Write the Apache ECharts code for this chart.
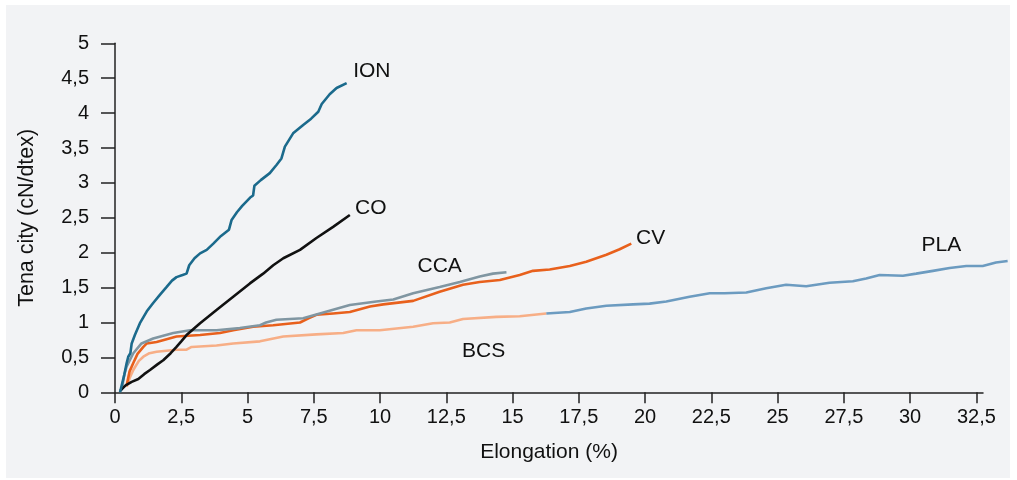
<!DOCTYPE html>
<html>
<head>
<meta charset="utf-8">
<script src="https://cdn.jsdelivr.net/npm/echarts@6/dist/echarts.min.js"></script>
<style>
  html, body { margin: 0; padding: 0; background: #fff; }
  #chart { width: 1017px; height: 480px; }
</style>
</head>
<body>
<div id="chart"></div>
<script>
// curves: [elongation %, tenacity cN/dtex]
const ION = [[0.19,0],[0.35,0.25],[0.44,0.42],[0.5,0.51],[0.58,0.56],[0.63,0.7],[0.75,0.82],[0.94,0.99],[1.2,1.16],[1.44,1.28],[1.7,1.4],[1.95,1.51],[2.15,1.6],[2.32,1.65],[2.55,1.68],[2.7,1.7],[2.8,1.82],[3.0,1.92],[3.21,1.99],[3.46,2.04],[3.71,2.13],[4.0,2.24],[4.3,2.33],[4.4,2.47],[4.6,2.58],[4.8,2.67],[5.1,2.79],[5.21,2.82],[5.26,2.96],[5.5,3.04],[5.84,3.14],[6.1,3.26],[6.28,3.35],[6.41,3.52],[6.72,3.71],[7.1,3.83],[7.4,3.92],[7.67,4.02],[7.8,4.13],[8.1,4.27],[8.36,4.36],[8.74,4.43]];
const CO = [[0.19,0.02],[0.4,0.1],[0.63,0.15],[0.88,0.19],[1.1,0.26],[1.32,0.32],[1.6,0.4],[1.82,0.46],[2.1,0.56],[2.32,0.65],[2.5,0.73],[2.7,0.82],[3.21,0.99],[3.83,1.18],[4.46,1.37],[5.09,1.56],[5.59,1.7],[5.97,1.82],[6.35,1.92],[6.98,2.04],[7.6,2.21],[8.23,2.37],[8.86,2.54]];
const CCA = [[0.25,0.03],[0.35,0.25],[0.44,0.37],[0.69,0.56],[1.0,0.7],[1.44,0.77],[2.2,0.85],[2.83,0.89],[3.83,0.89],[4.71,0.92],[5.47,0.96],[5.7,1.0],[6.09,1.04],[7.1,1.06],[7.73,1.13],[8.86,1.25],[9.86,1.3],[10.5,1.33],[11.25,1.42],[12.25,1.51],[13.01,1.58],[13.76,1.66],[14.26,1.7],[14.77,1.72]];
const CV = [[0.44,0.1],[0.55,0.3],[0.69,0.42],[0.85,0.55],[1.07,0.65],[1.2,0.7],[1.57,0.72],[2.32,0.8],[3.21,0.82],[3.96,0.85],[4.46,0.89],[5.21,0.94],[5.97,0.96],[6.98,1.0],[7.3,1.06],[7.6,1.11],[8.23,1.13],[8.86,1.15],[9.62,1.23],[10.12,1.26],[11.25,1.31],[12.25,1.44],[13.13,1.54],[13.76,1.58],[14.52,1.61],[15.27,1.68],[15.77,1.74],[16.4,1.76],[17.16,1.81],[17.78,1.87],[18.54,1.97],[19.04,2.05],[19.48,2.13]];
const BCS = [[0.44,0.08],[0.55,0.2],[0.69,0.32],[0.9,0.45],[1.07,0.51],[1.3,0.56],[1.57,0.58],[2.32,0.61],[2.7,0.61],[2.89,0.65],[3.83,0.67],[4.46,0.7],[5.47,0.73],[6.35,0.8],[7.6,0.83],[8.61,0.85],[9.11,0.89],[9.99,0.89],[11.25,0.94],[12.0,0.99],[12.63,1.0],[13.13,1.05],[14.39,1.08],[15.27,1.09],[16.27,1.13]];
const PLA = [[16.27,1.13],[17.16,1.15],[17.78,1.2],[18.54,1.24],[19.55,1.26],[20.17,1.27],[20.8,1.3],[21.68,1.37],[22.44,1.42],[23.0,1.42],[23.82,1.43],[24.57,1.49],[25.32,1.54],[26.08,1.52],[26.96,1.57],[27.84,1.59],[28.34,1.63],[28.85,1.68],[29.73,1.67],[30.23,1.7],[30.86,1.74],[31.49,1.78],[32.12,1.81],[32.74,1.81],[33.24,1.86],[33.68,1.88]];

// drawing order (first = bottom)
const seriesNames = ["PLA", "BCS", "CV", "CCA", "CO", "ION"];
const seriesData = [PLA, BCS, CV, CCA, CO, ION];
const seriesColors = ["#6c9bc0", "#f7ae86", "#e8601c", "#8096a2", "#111111", "#1b6a8c"];
// where the curve names sit, in data units
const labelX = [31.18, 13.91, 20.21, 12.25, 9.65, 9.69];
const labelY = [2.11, 0.59, 2.21, 1.80, 2.64, 4.60];

// the drawn axis stops at 32.75 but the PLA curve runs on past it
const X_AXIS_MAX = 32.75;
const X_DATA_MAX = 33.75;

const FONT = "Liberation Sans, Arial, Helvetica, sans-serif";
const fmt = v => String(v).replace(".", ",");

const chart = echarts.init(document.getElementById("chart"));

// px per x unit must be the same on both grids
const gridLeft = 115, gridTop = 43.3, gridBottom = 87.7, axisRight = 34;
const axisWidth = 1017 - gridLeft - axisRight;
const dataWidth = axisWidth * X_DATA_MAX / X_AXIS_MAX;

const series = seriesNames.map((name, i) => ({
  name: name,
  type: "line",
  xAxisIndex: 1,
  yAxisIndex: 1,
  data: seriesData[i],
  showSymbol: false,
  symbol: "none",
  lineStyle: { color: seriesColors[i], width: 2.6 },
  itemStyle: { color: seriesColors[i] },
  markPoint: {
    symbol: "circle",
    symbolSize: 0,
    data: [{ coord: [labelX[i], labelY[i]] }],
    label: {
      show: true,
      position: "inside",
      formatter: name,
      color: "#111",
      fontSize: 21,
      fontFamily: FONT,
    },
  },
}));

chart.setOption({
  animation: false,
  backgroundColor: "#fff",
  graphic: [{
    type: "rect",
    shape: { x: 6, y: 5, width: 1004, height: 473 },
    style: { fill: "#f2f3f5" },
    z: -10,
  }],
  grid: [
    { left: gridLeft, top: gridTop, width: axisWidth, bottom: gridBottom },
    { left: gridLeft, top: gridTop, width: dataWidth, bottom: gridBottom },
  ],
  xAxis: [{
    type: "value",
    gridIndex: 0,
    min: 0,
    max: X_AXIS_MAX,
    interval: 2.5,
    name: "Elongation (%)",
    nameLocation: "middle",
    nameGap: 49,
    nameTextStyle: { color: "#111", fontSize: 21, fontFamily: FONT },
    axisLine: { show: true, onZero: false, lineStyle: { color: "#222", width: 1.5 } },
    axisTick: { show: true, length: 11, lineStyle: { color: "#222", width: 1.5 } },
    axisLabel: { color: "#111", fontSize: 20, fontFamily: FONT, margin: 15, formatter: fmt },
    splitLine: { show: false },
  }, {
    type: "value",
    gridIndex: 1,
    min: 0,
    max: X_DATA_MAX,
    show: false,
  }],
  yAxis: [{
    type: "value",
    gridIndex: 0,
    min: 0,
    max: 5,
    interval: 0.5,
    name: "Tena city (cN/dtex)",
    nameLocation: "middle",
    nameGap: 77,
    nameTextStyle: { color: "#111", fontSize: 21.5, fontFamily: FONT },
    axisLine: { show: true, lineStyle: { color: "#222", width: 1.5 } },
    axisTick: { show: true, length: 14, lineStyle: { color: "#222", width: 1.5 } },
    axisLabel: { color: "#111", fontSize: 20, fontFamily: FONT, margin: 26, formatter: fmt },
    splitLine: { show: false },
  }, {
    type: "value",
    gridIndex: 1,
    min: 0,
    max: 5,
    show: false,
  }],
  series: series,
});
</script>
</body>
</html>
